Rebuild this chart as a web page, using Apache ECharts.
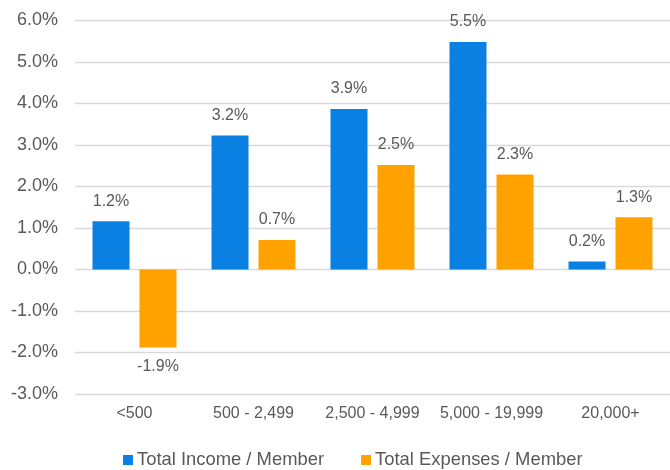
<!DOCTYPE html>
<html>
<head>
<meta charset="utf-8">
<script src="https://cdn.jsdelivr.net/npm/echarts@6/dist/echarts.min.js"></script>
<style>
  html, body { margin: 0; padding: 0; background: #ffffff; }
  #main { width: 670px; height: 470px; }
</style>
</head>
<body>
<div id="main"></div>
<script>
// member size buckets
var categories = ['<500', '500 - 2,499', '2,500 - 4,999', '5,000 - 19,999', '20,000+']
// values in percent
var incomePerMember = [1.16, 3.23, 3.87, 5.48, 0.19]
var expensesPerMember = [-1.88, 0.71, 2.52, 2.29, 1.26]
var seriesNames = ['Total Income / Member', 'Total Expenses / Member']

var fontFamily = '"Liberation Sans", Arial, sans-serif'
var textColor = '#595959'

function pct(v) {
  return v.toFixed(1) + '%'
}

// negative bars get their label underneath
function toItems(arr) {
  return arr.map(function(v) {
    if (v < 0) {
      return { value: v, label: { position: 'bottom', distance: 11 } }
    }
    return v
  })
}

var chart = echarts.init(document.getElementById('main'))
var option = {
  animation: false,
  textStyle: { fontFamily: fontFamily },
  color: ['#0a80e2', '#ffa200'],
  grid: { left: 75, right: 0, top: 20.5, bottom: 76, containLabel: false },
  legend: {
    data: seriesNames,
    left: 118,
    bottom: -4,
    icon: 'rect',
    itemWidth: 10,
    itemHeight: 10,
    itemGap: 37,
    textStyle: { fontSize: 18.4, color: textColor, fontFamily: fontFamily, padding: [0, 0, 0, -1] }
  },
  xAxis: {
    type: 'category',
    data: categories,
    axisLine: { show: false },
    axisTick: { show: false },
    axisLabel: { fontSize: 16, color: textColor, margin: 12, interval: 0 }
  },
  yAxis: {
    type: 'value',
    min: -3,
    max: 6,
    interval: 1,
    axisLine: { show: false },
    axisTick: { show: false },
    splitLine: { lineStyle: { color: '#d9d9d9', width: 1.3 } },
    axisLabel: {
      fontSize: 18,
      color: textColor,
      margin: 17,
      formatter: function(v) { return pct(v) }
    }
  },
  series: [
    {
      name: seriesNames[0],
      type: 'bar',
      barWidth: 37,
      barGap: '27%',
      data: toItems(incomePerMember),
      label: {
        show: true,
        position: 'top',
        distance: 12,
        fontSize: 16,
        color: textColor,
        formatter: function(p) { return pct(p.value) }
      }
    },
    {
      name: seriesNames[1],
      type: 'bar',
      barWidth: 37,
      barGap: '27%',
      data: toItems(expensesPerMember),
      label: {
        show: true,
        position: 'top',
        distance: 12,
        fontSize: 16,
        color: textColor,
        formatter: function(p) { return pct(p.value) }
      }
    }
  ]
}
chart.setOption(option)
</script>
</body>
</html>
